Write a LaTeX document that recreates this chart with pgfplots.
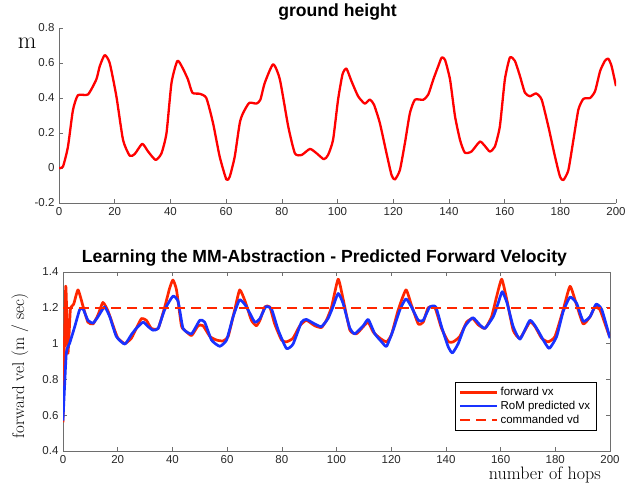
\documentclass[border=0pt]{standalone}
\usepackage{pgfplots}
\pgfplotsset{compat=1.18}
\usepackage{fontspec}
\newfontfamily\hel{Liberation Sans}
\definecolor{gh}{RGB}{255,0,0}
\definecolor{fv}{RGB}{255,38,0}
\definecolor{bl}{RGB}{25,50,255}
\definecolor{axc}{RGB}{110,110,110}
\definecolor{tlc}{RGB}{40,40,40}

\pgfplotstableread{
x y
0 0.0
1.4 0.007
3.2 0.12
5.0 0.33
6.8 0.416
10.4 0.42
13.4 0.506
14.6 0.58
16.4 0.645
18.2 0.60
20.6 0.41
23.0 0.16
25.4 0.07
27.2 0.08
29.9 0.138
32.0 0.094
34.7 0.046
36.8 0.084
38.6 0.2
40.4 0.487
42.5 0.612
44.3 0.574
46.3 0.506
47.9 0.43
50.5 0.424
52.9 0.40
55.3 0.257
57.7 0.065
60.1 -0.066
61.3 -0.05
63.1 0.065
64.9 0.257
66.1 0.314
68.3 0.372
70.9 0.368
72.3 0.39
73.9 0.487
76.9 0.593
79.3 0.506
82.3 0.238
84.7 0.084
87.1 0.074
90.1 0.109
92.5 0.084
95.1 0.05
96.6 0.074
98.4 0.16
100.2 0.39
101.8 0.535
103.2 0.568
105 0.497
107.4 0.41
109.8 0.368
111.6 0.391
113.1 0.362
115.2 0.257
117.6 0.084
119.4 -0.04
120.6 -0.066
122.4 -0.012
124.2 0.142
126 0.314
127.8 0.39
130.8 0.39
132.6 0.42
134.4 0.506
136.2 0.583
137.4 0.631
138.6 0.618
140.4 0.506
142.2 0.295
144 0.16
145.7 0.088
148.1 0.094
151.1 0.151
152.9 0.126
154.7 0.094
156.5 0.122
158.3 0.238
160.1 0.506
161.9 0.631
163.7 0.612
165.5 0.526
167.3 0.43
169.1 0.41
171.3 0.426
173.3 0.391
175.7 0.238
178.1 0.065
179.9 -0.05
181.1 -0.069
182.9 -0.012
184.7 0.16
186.5 0.334
188.3 0.395
190.7 0.40
192.5 0.44
194.3 0.554
196 0.612
197.2 0.625
198.4 0.583
200 0.468
}\ground

\pgfplotstableread{
x y
0 0.56
1.0 1.32
1.8 0.945
2.7 1.19
3.9 1.22
5.5 1.30
7.3 1.21
9.1 1.12
11 1.11
12.8 1.16
14.6 1.23
16.5 1.18
18.9 1.075
20.1 1.03
22.6 1.0
25 1.03
26.8 1.085
28.7 1.14
30.5 1.13
32.3 1.085
34.8 1.085
37.2 1.205
39 1.31
40.2 1.355
41.5 1.30
43.3 1.10
44.5 1.075
47 1.045
49.4 1.10
51.2 1.10
53.7 1.04
56.1 1.02
58.5 1.015
60.4 1.04
62.8 1.19
64.6 1.30
66.5 1.24
68.9 1.13
70.7 1.10
72 1.13
73.8 1.205
75.6 1.205
77.4 1.11
79.9 1.02
81.7 1.01
84.1 1.03
86.6 1.10
89 1.13
92 1.10
94.5 1.09
96.3 1.13
98.2 1.205
100.6 1.36
102.4 1.25
104.9 1.075
107.3 1.055
109.8 1.095
111.6 1.12
113.4 1.065
115.9 1.03
118.3 1.01
120.1 1.05
122.6 1.19
125.4 1.30
127.4 1.215
129.9 1.11
131.7 1.12
133.5 1.2
136 1.2
138.4 1.085
140.9 1.01
142.7 1.01
145.1 1.04
147.6 1.12
149.8 1.14
151.8 1.105
154.3 1.085
156.7 1.15
158.5 1.26
160.4 1.36
162.2 1.25
164.6 1.075
167.1 1.03
170.7 1.12
172.6 1.095
175 1.03
177.4 1.01
179.9 1.04
182.9 1.19
185.4 1.32
187.8 1.215
190.2 1.11
192.7 1.15
194.5 1.205
196.3 1.19
198.2 1.11
199.8 1.04
}\fwd

\pgfplotstableread{
x y
0 0.57
1.2 0.945
2.4 1.0
4.3 1.095
6.1 1.19
7.3 1.195
9.1 1.13
11 1.115
12.8 1.15
15.2 1.205
17.1 1.15
19.5 1.04
22.6 0.997
25 1.05
26.8 1.085
29.3 1.12
31.1 1.095
32.9 1.075
34.8 1.085
37.2 1.19
40.2 1.265
42.1 1.235
43.9 1.085
47 1.055
50 1.13
51.8 1.12
54.3 1.02
57.3 0.985
59.8 1.02
62.2 1.15
64.6 1.245
67.1 1.205
70.1 1.12
72 1.14
74.1 1.205
76.2 1.195
78.7 1.075
81.7 0.973
84.1 0.997
87.2 1.12
89 1.135
92 1.11
94.5 1.095
96.9 1.14
98.7 1.205
100.6 1.28
102.4 1.225
104.9 1.085
106.7 1.055
109.8 1.10
111.6 1.135
114 1.055
116.5 1.01
118.3 0.985
120.7 1.075
123.2 1.19
125.4 1.25
127.4 1.205
129.9 1.13
131.7 1.13
134.1 1.205
136.3 1.205
138.4 1.095
140.9 0.98
142.4 0.948
144.5 1.0
146.9 1.095
149.8 1.145
152.4 1.105
154.3 1.085
157.3 1.15
159.1 1.225
160.6 1.29
162.4 1.225
164.6 1.095
167.1 1.025
170.7 1.13
173.2 1.085
175.6 1.02
177.8 0.973
180.5 1.04
182.9 1.18
185.4 1.26
187.8 1.225
190.2 1.125
192.7 1.15
194.9 1.22
197 1.19
200 1.03
}\pred

\pgfplotstableread{
x y
0 1.2
200 1.2
}\cmd

\pgfplotsset{
  mystyle/.style={
    scale only axis,
    xmin=0, xmax=200,
    xtick={0,20,...,200},
    tick align=inside,
    major tick length=4pt,
    axis line style={axc, line width=0.6pt},
    every tick/.style={axc, line width=0.6pt},
    tick label style={font=\hel\fontsize{11.5}{13}\selectfont, text=tlc},
    /pgf/number format/assume math mode=true,
    x tick label style={yshift=-1pt},
    y tick label style={xshift=-1pt},
    title style={font=\hel\bfseries\fontsize{17.6}{19}\selectfont, anchor=center},
  }
}

\begin{document}
\begin{tikzpicture}
\useasboundingbox (0pt,0pt) rectangle (626pt,487pt);
\begin{axis}[mystyle,
  at={(59pt,284pt)}, anchor=south west,
  width=557pt, height=175pt,
  ymin=-0.2, ymax=0.8,
  ytick={-0.2,0,0.2,0.4,0.6,0.8},
  yticklabels={-0.2,0,0.2,0.4,0.6,0.8},
  axis lines*=left,
  title={ground height},
  title style={at={(0.5,1)}, yshift=10pt},
  ylabel={m},
  ylabel style={at={(axis description cs:-0.057,0.914)}, anchor=center, rotate=-90, font=\fontsize{24}{24}\selectfont},
]
\addplot[gh, line width=2.3pt, line join=round, smooth, tension=0.35] table[x=x,y=y] {\ground};
\end{axis}

\begin{axis}[mystyle,
  at={(63pt,36pt)}, anchor=south west,
  width=547pt, height=179pt,
  ymin=0.4, ymax=1.4,
  ytick={0.4,0.6,0.8,1,1.2,1.4},
  yticklabels={0.4,0.6,0.8,1,1.2,1.4},
  title={Learning the MM-Abstraction - Predicted Forward Velocity},
  title style={at={(0.5,1)}, yshift=8pt, xshift=-12pt},
  ylabel={forward vel (m / sec)},
  ylabel style={at={(axis description cs:-0.079,0.475)}, anchor=center, rotate=0, font=\fontsize{17}{17}\selectfont},
  xlabel={number of hops},
  xlabel style={at={(axis description cs:0.881,-0.134)}, anchor=center, font=\fontsize{18}{18}\selectfont},
  legend style={at={(0.975,0.117)}, anchor=south east, draw=black, line width=0.5pt,
    font=\hel\fontsize{11.5}{13.5}\selectfont, inner xsep=4pt, inner ysep=3pt, row sep=0pt},
  legend cell align=left,
  legend image code/.code={\draw[#1] (0pt,0pt) -- (37pt,0pt);},
]
\addplot[fv, line width=2.7pt, line join=round, smooth, tension=0.3] table[x=x,y=y] {\fwd};
\addlegendentry{forward vx}
\addplot[bl, line width=2.7pt, line join=round, smooth, tension=0.3] table[x=x,y=y] {\pred};
\addlegendentry{RoM predicted vx}
\addplot[fv, line width=2.2pt, dash pattern=on 10pt off 6pt] table[x=x,y=y] {\cmd};
\addlegendentry{commanded vd}
\end{axis}
\end{tikzpicture}
\end{document}
